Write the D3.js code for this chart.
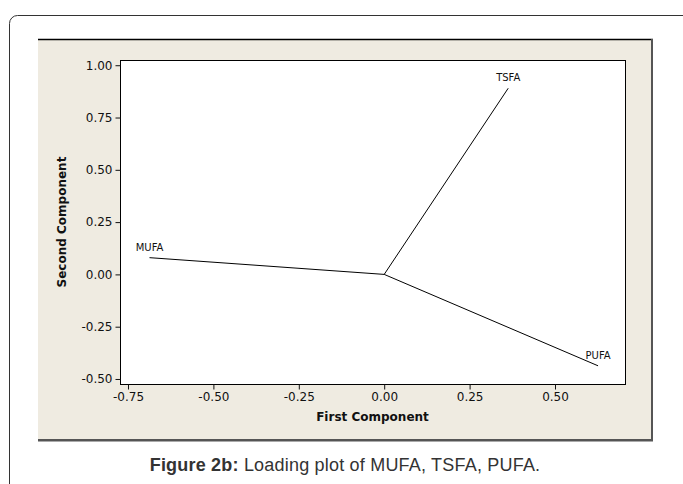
<!DOCTYPE html>
<html>
<head>
<meta charset="utf-8">
<title>Loading plot</title>
<script src="https://d3js.org/d3.v7.min.js"></script>
<style>
  body { margin: 0; background: #fff; }
  .tick text { font-family: "DejaVu Sans", Verdana, sans-serif; font-size: 12px; fill: #111; }
  .tick line { stroke: #111; }
  .axis-title { font-family: "DejaVu Sans", Verdana, sans-serif; font-size: 12px; font-weight: bold; fill: #111; }
  .var-label { font-family: "DejaVu Sans", Verdana, sans-serif; font-size: 10px; fill: #111; }
  .caption { font-family: "Liberation Sans", Arial, sans-serif; font-size: 18px; letter-spacing: 0.2px; fill: #333; }
</style>
</head>
<body>
<svg width="683" height="484"></svg>
<script>
// loadings
var variables = ["MUFA", "TSFA", "PUFA"];
var firstComponent = [-0.687, 0.363, 0.626];
var secondComponent = [0.080, 0.890, -0.437];

var xTicks = [-0.75, -0.50, -0.25, 0.00, 0.25, 0.50];
var yTicks = [-0.50, -0.25, 0.00, 0.25, 0.50, 0.75, 1.00];

var svg = d3.select("svg"),
    width = +svg.attr("width"),
    height = +svg.attr("height");

var plot = { left: 120, top: 60, right: 625, bottom: 384 };

// outer frame with rounded corner
svg.append("rect")
    .attr("x", 9.5).attr("y", 15.5)
    .attr("width", 700).attr("height", 500)
    .attr("rx", 8)
    .attr("fill", "none")
    .attr("stroke", "#333");

// beige panel
svg.append("rect")
    .attr("x", 38).attr("y", 39)
    .attr("width", 615).attr("height", 402)
    .attr("fill", "#efebe1");
svg.append("line")
    .attr("x1", 38).attr("x2", 653).attr("y1", 39.5).attr("y2", 39.5)
    .attr("stroke", "#000").attr("stroke-width", 1.5);
svg.append("line")
    .attr("x1", 652).attr("x2", 652).attr("y1", 39).attr("y2", 441)
    .attr("stroke", "#555").attr("stroke-width", 2);
svg.append("line")
    .attr("x1", 38).attr("x2", 653).attr("y1", 440).attr("y2", 440)
    .attr("stroke", "#555").attr("stroke-width", 2);
svg.append("line")
    .attr("x1", 38).attr("x2", 653).attr("y1", 441.5).attr("y2", 441.5)
    .attr("stroke", "#aaa").attr("stroke-width", 1);

// plot area
svg.append("rect")
    .attr("x", plot.left + 0.5).attr("y", plot.top + 0.5)
    .attr("width", plot.right - plot.left).attr("height", plot.bottom - plot.top)
    .attr("fill", "#fff")
    .attr("stroke", "#000");

var x = d3.scaleLinear()
    .domain([-0.7734, 0.7049])
    .range([plot.left, plot.right]);

var y = d3.scaleLinear()
    .domain([-0.524, 1.025])
    .range([plot.bottom, plot.top]);

var fmt = function(d) { return d.toFixed(2); };

var xAxis = svg.append("g")
    .attr("transform", "translate(0," + (plot.bottom + 0.5) + ")")
    .call(d3.axisBottom(x).tickValues(xTicks).tickFormat(fmt).tickSize(5).tickPadding(3));
xAxis.select(".domain").remove();

var yAxis = svg.append("g")
    .attr("transform", "translate(" + (plot.left + 0.5) + ",0)")
    .call(d3.axisLeft(y).tickValues(yTicks).tickFormat(fmt).tickSize(5).tickPadding(3));
yAxis.select(".domain").remove();

svg.append("text")
    .attr("class", "axis-title")
    .attr("x", (plot.left + plot.right) / 2)
    .attr("y", 421)
    .attr("text-anchor", "middle")
    .text("First Component");

svg.append("text")
    .attr("class", "axis-title")
    .attr("transform", "translate(66," + ((plot.top + plot.bottom) / 2) + ") rotate(-90)")
    .attr("text-anchor", "middle")
    .text("Second Component");

// loading lines from origin
var loadings = variables.map(function(v, i) {
  return { name: v, x: firstComponent[i], y: secondComponent[i] };
});

svg.selectAll("line.loading")
    .data(loadings)
    .enter()
    .append("line")
    .attr("class", "loading")
    .attr("x1", x(0)).attr("y1", y(0))
    .attr("x2", function(d) { return x(d.x); })
    .attr("y2", function(d) { return y(d.y); })
    .attr("stroke", "#000")
    .attr("stroke-width", 1);

svg.selectAll("text.var-label")
    .data(loadings)
    .enter()
    .append("text")
    .attr("class", "var-label")
    .attr("x", function(d) { return x(d.x); })
    .attr("y", function(d) { return y(d.y) - 7; })
    .attr("text-anchor", "middle")
    .text(function(d) { return d.name; });

// caption
var cap = svg.append("text")
    .attr("class", "caption")
    .attr("x", 345)
    .attr("y", 471)
    .attr("text-anchor", "middle");
cap.append("tspan").attr("font-weight", "bold").text("Figure 2b:");
cap.append("tspan").text(" Loading plot of MUFA, TSFA, PUFA.");
</script>
</body>
</html>
